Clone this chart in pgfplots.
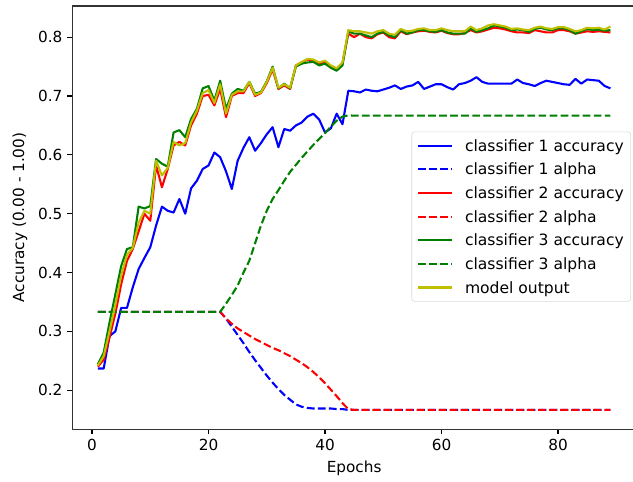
\documentclass[border=0pt]{standalone}
\usepackage{pgfplots}
\usepackage{pgfplotstable}
\pgfplotsset{compat=1.18}
\usepackage{fontspec}
\setmainfont{DejaVu Sans}

\definecolor{mplgreen}{rgb}{0,0.5,0}
\definecolor{mplyellow}{rgb}{0.75,0.75,0}
\newcommand{\lstrut}{\rule[-4pt]{0pt}{13.5pt}}

% ep, accuracy and alpha of the three classifiers, model output
\pgfplotstableread{
ep a1 al1 a2 al2 a3 al3 mo
1 .237 .3333 .240 .3333 .244 .3333 .242
2 .237 .3333 .252 .3333 .264 .3333 .258
3 .292 .3333 .290 .3333 .315 .3333 .300
4 .300 .3333 .330 .3333 .363 .3333 .345
5 .340 .3333 .380 .3333 .411 .3333 .395
6 .340 .3333 .420 .3333 .440 .3333 .430
7 .375 .3333 .440 .3333 .443 .3333 .442
8 .406 .3333 .470 .3333 .512 .3333 .485
9 .425 .3333 .500 .3333 .509 .3333 .505
10 .443 .3333 .488 .3333 .513 .3333 .500
11 .480 .3333 .582 .3333 .593 .3333 .590
12 .512 .3333 .545 .3333 .585 .3333 .565
13 .505 .3333 .576 .3333 .580 .3333 .578
14 .502 .3333 .616 .3333 .638 .3333 .622
15 .525 .3333 .622 .3333 .642 .3333 .616
16 .500 .3333 .616 .3333 .630 .3333 .620
17 .543 .3333 .650 .3333 .661 .3333 .655
18 .556 .3333 .670 .3333 .678 .3333 .675
19 .576 .3333 .700 .3333 .713 .3333 .705
20 .582 .3333 .702 .3333 .717 .3333 .710
21 .604 .3333 .684 .3333 .692 .3333 .688
22 .596 .3333 .712 .3333 .726 .3333 .720
23 .572 .322 .664 .322 .678 .347 .670
24 .542 .308 .700 .313 .704 .362 .702
25 .590 .294 .705 .305 .712 .378 .708
26 .612 .280 .705 .299 .709 .400 .708
27 .630 .265 .722 .293 .724 .420 .724
28 .607 .251 .700 .287 .704 .450 .702
29 .620 .238 .705 .282 .707 .480 .706
30 .635 .225 .722 .277 .725 .505 .724
31 .647 .213 .745 .272 .750 .525 .748
32 .613 .202 .712 .268 .713 .540 .714
33 .644 .192 .718 .263 .721 .556 .720
34 .641 .184 .712 .258 .713 .571 .714
35 .650 .176 .752 .252 .750 .583 .752
36 .655 .172 .757 .246 .755 .595 .758
37 .665 .170 .762 .239 .757 .606 .763
38 .670 .169 .760 .231 .758 .617 .762
39 .660 .169 .755 .222 .752 .627 .757
40 .638 .169 .758 .212 .755 .637 .760
41 .645 .169 .750 .201 .748 .648 .752
42 .670 .168 .745 .190 .743 .658 .747
43 .652 .168 .756 .178 .752 .665 .757
44 .709 .1667 .806 .168 .810 .667 .812
45 .708 .1667 .800 .1667 .806 .6667 .810
46 .706 .1667 .806 .1667 .806 .6667 .810
47 .711 .1667 .800 .1667 .803 .6667 .808
48 .709 .1667 .798 .1667 .800 .6667 .806
49 .708 .1667 .805 .1667 .806 .6667 .810
50 .711 .1667 .808 .1667 .809 .6667 .812
51 .714 .1667 .800 .1667 .803 .6667 .806
52 .718 .1667 .798 .1667 .800 .6667 .804
53 .712 .1667 .810 .1667 .812 .6667 .814
54 .716 .1667 .805 .1667 .806 .6667 .810
55 .718 .1667 .808 .1667 .808 .6667 .811
56 .724 .1667 .810 .1667 .812 .6667 .814
57 .712 .1667 .811 .1667 .812 .6667 .815
58 .716 .1667 .809 .1667 .810 .6667 .812
59 .720 .1667 .808 .1667 .809 .6667 .812
60 .720 .1667 .811 .1667 .812 .6667 .815
61 .715 .1667 .807 .1667 .808 .6667 .812
62 .711 .1667 .805 .1667 .806 .6667 .810
63 .720 .1667 .805 .1667 .806 .6667 .810
64 .722 .1667 .807 .1667 .806 .6667 .810
65 .726 .1667 .812 .1667 .815 .6667 .818
66 .732 .1667 .808 .1667 .809 .6667 .812
67 .724 .1667 .810 .1667 .812 .6667 .815
68 .721 .1667 .813 .1667 .815 .6667 .820
69 .721 .1667 .816 .1667 .820 .6667 .822
70 .721 .1667 .815 .1667 .818 .6667 .820
71 .721 .1667 .813 .1667 .816 .6667 .818
72 .721 .1667 .810 .1667 .812 .6667 .814
73 .728 .1667 .808 .1667 .813 .6667 .815
74 .722 .1667 .808 .1667 .812 .6667 .813
75 .720 .1667 .807 .1667 .809 .6667 .812
76 .717 .1667 .812 .1667 .814 .6667 .816
77 .722 .1667 .810 .1667 .816 .6667 .818
78 .726 .1667 .808 .1667 .813 .6667 .815
79 .724 .1667 .808 .1667 .812 .6667 .814
80 .722 .1667 .812 .1667 .815 .6667 .817
81 .720 .1667 .812 .1667 .815 .6667 .817
82 .719 .1667 .810 .1667 .812 .6667 .814
83 .729 .1667 .806 .1667 .806 .6667 .810
84 .721 .1667 .808 .1667 .810 .6667 .812
85 .728 .1667 .810 .1667 .814 .6667 .816
86 .727 .1667 .809 .1667 .812 .6667 .815
87 .726 .1667 .810 .1667 .813 .6667 .816
88 .717 .1667 .809 .1667 .811 .6667 .813
89 .713 .1667 .808 .1667 .812 .6667 .818
}\runs

\begin{document}
\begin{tikzpicture}
\begin{axis}[
  scale only axis,
  width=405.9pt, height=304.6pt,
  xmin=-3.4, xmax=93.4,
  ymin=0.134, ymax=0.853,
  xtick={0,20,40,60,80},
  ytick={0.2,0.3,0.4,0.5,0.6,0.7,0.8},
  yticklabel style={/pgf/number format/.cd, fixed, fixed zerofill, precision=1},
  /pgf/number format/assume math mode=true,
  tick align=outside, tick pos=left,
  major tick length=3.5pt,
  every tick/.style={black, line width=0.8pt},
  axis line style={line width=0.8pt, black!80},
  ticklabel style={font=\fontsize{11}{13}\selectfont},
  xlabel={Epochs}, ylabel={Accuracy (0.00 - 1.00)},
  label style={font=\fontsize{11}{13}\selectfont},
  xlabel style={yshift=-0.5pt},
  ylabel style={yshift=1pt},
  legend cell align=left,
  legend style={at={(0.991,0.703)}, anchor=north east,
    draw=black!15, rounded corners=2pt,
    font=\fontsize{11.2}{14}\selectfont,
    row sep=4pt, inner xsep=4pt, inner ysep=3.5pt,
    nodes={inner sep=1pt},
    /tikz/every odd column/.append style={column sep=8pt}},
  legend image code/.code={\draw[#1] plot coordinates {(0cm,0cm) (0.84cm,0cm)};},
  every axis plot/.append style={line width=1.5pt, line join=round},
  mpldash/.style={dash pattern=on 5.55pt off 2.4pt},
]
\addplot[blue] table[x=ep, y=a1] {\runs};
\addlegendentry{\lstrut classifier 1 accuracy}
\addplot[blue, mpldash] table[x=ep, y=al1] {\runs};
\addlegendentry{\lstrut classifier 1 alpha}
\addplot[red] table[x=ep, y=a2] {\runs};
\addlegendentry{\lstrut classifier 2 accuracy}
\addplot[red, mpldash] table[x=ep, y=al2] {\runs};
\addlegendentry{\lstrut classifier 2 alpha}
\addplot[mplgreen] table[x=ep, y=a3] {\runs};
\addlegendentry{\lstrut classifier 3 accuracy}
\addplot[mplgreen, mpldash] table[x=ep, y=al3] {\runs};
\addlegendentry{\lstrut classifier 3 alpha}
\addplot[mplyellow] table[x=ep, y=mo] {\runs};
\addlegendentry{\lstrut model output}
\end{axis}
\pgfresetboundingbox
\path[use as bounding box] ([xshift=-52pt,yshift=-37.4pt]current axis.south west)
  rectangle ([xshift=-2.2pt,yshift=4.3pt]current axis.north east);
\end{tikzpicture}
\end{document}
